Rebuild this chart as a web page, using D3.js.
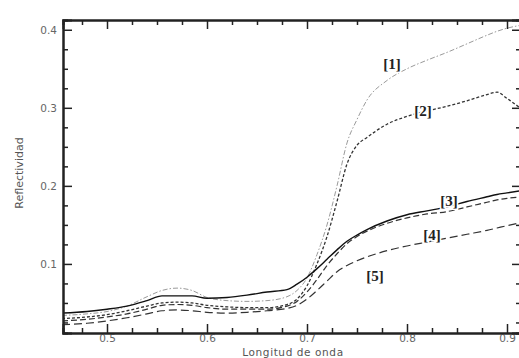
<!DOCTYPE html>
<html>
<head>
<meta charset="utf-8">
<script src="https://cdn.jsdelivr.net/npm/d3@7"></script>
<style>
  body { margin: 0; background: #fff; }
  svg { display: block; }
  .tick text { font-family: "DejaVu Sans", sans-serif; font-size: 10.5px; fill: #666; }
</style>
</head>
<body>
<svg id="chart" width="519" height="358"></svg>
<script>
// wavelength (µm) shared by every curve
const wavelength = [0.455, 0.48, 0.50, 0.52, 0.54, 0.555, 0.57, 0.585, 0.60, 0.62, 0.64, 0.66, 0.68, 0.69, 0.70,
                    0.71, 0.72, 0.73, 0.74, 0.75, 0.76, 0.78, 0.80, 0.82, 0.84, 0.86, 0.88, 0.89, 0.90, 0.915]

const curve1 = [0.034, 0.036, 0.039, 0.046, 0.058, 0.066, 0.069, 0.066, 0.057, 0.053, 0.052, 0.053, 0.058, 0.066, 0.082,
                0.112, 0.150, 0.200, 0.255, 0.285, 0.310, 0.335, 0.350, 0.361, 0.371, 0.382, 0.393, 0.398, 0.402, 0.406]
const curve2 = [0.030, 0.032, 0.035, 0.040, 0.046, 0.050, 0.051, 0.050, 0.047, 0.045, 0.044, 0.044, 0.048, 0.055, 0.072,
                0.100, 0.135, 0.180, 0.228, 0.252, 0.262, 0.279, 0.289, 0.296, 0.302, 0.309, 0.317, 0.320, 0.312, 0.298]
const curve3 = [0.037, 0.039, 0.042, 0.046, 0.053, 0.059, 0.059, 0.059, 0.056, 0.057, 0.060, 0.064, 0.067, 0.074, 0.083,
                0.094, 0.106, 0.118, 0.129, 0.137, 0.144, 0.155, 0.163, 0.168, 0.173, 0.180, 0.186, 0.189, 0.191, 0.194]
const curve3b = [0.027, 0.029, 0.032, 0.036, 0.042, 0.047, 0.048, 0.047, 0.044, 0.042, 0.042, 0.042, 0.046, 0.052, 0.064,
                 0.080, 0.098, 0.113, 0.126, 0.135, 0.142, 0.152, 0.159, 0.164, 0.167, 0.173, 0.179, 0.182, 0.184, 0.186]
const curve4 = [0.022, 0.024, 0.027, 0.031, 0.036, 0.040, 0.041, 0.040, 0.038, 0.037, 0.038, 0.040, 0.043, 0.047, 0.055,
                0.066, 0.078, 0.090, 0.098, 0.104, 0.109, 0.117, 0.123, 0.128, 0.133, 0.138, 0.143, 0.146, 0.149, 0.153]

const xTicks = [0.5, 0.6, 0.7, 0.8, 0.9]
const yTicks = [0.1, 0.2, 0.3, 0.4]

const labelNames = ["[1]", "[2]", "[3]", "[4]", "[5]"]
const labelWl = [0.785, 0.816, 0.842, 0.825, 0.768]
const labelRef = [0.356, 0.296, 0.181, 0.137, 0.085]

const series = [
    {values: curve1, color: "#9a9a9a", width: 1, dash: "5,2,1.5,2"},
    {values: curve2, color: "#333", width: 1.3, dash: "3,2"},
    {values: curve3, color: "#111", width: 1.4, dash: null},
    {values: curve3b, color: "#333", width: 1.2, dash: "6,3"},
    {values: curve4, color: "#333", width: 1.2, dash: "8,4"},
]

const plotLeft = 63, plotRight = 521, plotTop = 20, plotBottom = 333

const svg = d3.select("#chart")
const x = d3.scaleLinear().domain([0.456, 0.914]).range([plotLeft, plotRight])
const y = d3.scaleLinear().domain([0.0115, 0.4125]).range([plotBottom, plotTop])

svg.append("defs").append("clipPath").attr("id", "plot")
    .append("rect").attr("x", plotLeft).attr("y", plotTop)
    .attr("width", plotRight - plotLeft).attr("height", plotBottom - plotTop)

const line = d3.line()
    .x((d, i) => x(wavelength[i]))
    .y(d => y(d))
    .curve(d3.curveMonotoneX)

svg.append("g").attr("clip-path", "url(#plot)")
    .selectAll("path")
    .data(series)
    .join("path")
    .attr("d", d => line(d.values))
    .attr("fill", "none")
    .attr("stroke", d => d.color)
    .attr("stroke-width", d => d.width)
    .attr("stroke-dasharray", d => d.dash)

// axes, ticks point inward
const minorX = d3.range(0.475, 0.914, 0.025).filter(v => Math.abs(v * 10 - Math.round(v * 10)) > 0.01)
const minorY = d3.range(0.025, 0.41, 0.025).filter(v => Math.abs(v * 10 - Math.round(v * 10)) > 0.01)

const styleAxis = g => {
    g.select(".domain").attr("stroke", "#222").attr("stroke-width", 2)
    g.selectAll(".tick line").attr("stroke", "#222").attr("stroke-width", 1.5)
}

svg.append("g").attr("transform", `translate(0,${plotBottom})`)
    .call(d3.axisBottom(x).tickValues(xTicks).tickSize(-9).tickPadding(2).tickFormat(d3.format(".1f")))
    .call(styleAxis)
svg.append("g").attr("transform", `translate(0,${plotBottom})`)
    .call(d3.axisBottom(x).tickValues(minorX).tickSize(-5).tickFormat(""))
    .call(styleAxis)
svg.append("g").attr("transform", `translate(0,${plotTop})`)
    .call(d3.axisTop(x).tickValues(xTicks).tickSize(-9).tickFormat(""))
    .call(styleAxis)
svg.append("g").attr("transform", `translate(0,${plotTop})`)
    .call(d3.axisTop(x).tickValues(minorX).tickSize(-5).tickFormat(""))
    .call(styleAxis)

svg.append("g").attr("transform", `translate(${plotLeft},0)`)
    .call(d3.axisLeft(y).tickValues(yTicks).tickSize(-9).tickPadding(6).tickFormat(d3.format(".1f")))
    .call(styleAxis)
svg.append("g").attr("transform", `translate(${plotLeft},0)`)
    .call(d3.axisLeft(y).tickValues(minorY).tickSize(-5).tickFormat(""))
    .call(styleAxis)
svg.append("g").attr("transform", `translate(${plotRight},0)`)
    .call(d3.axisRight(y).tickValues(yTicks).tickSize(-9).tickFormat(""))
    .call(styleAxis)
svg.append("g").attr("transform", `translate(${plotRight},0)`)
    .call(d3.axisRight(y).tickValues(minorY).tickSize(-5).tickFormat(""))
    .call(styleAxis)

// axis titles
svg.append("text")
    .attr("x", 293).attr("y", 356)
    .attr("text-anchor", "middle")
    .attr("font-family", "DejaVu Sans, sans-serif").attr("font-size", 10.5)
    .attr("letter-spacing", 0.6)
    .attr("fill", "#555")
    .text("Longitud de onda")

svg.append("text")
    .attr("transform", "translate(23,173) rotate(-90)")
    .attr("text-anchor", "middle")
    .attr("font-family", "DejaVu Sans, sans-serif").attr("font-size", 11)
    .attr("fill", "#555")
    .text("Reflectividad")

// curve labels
svg.append("g")
    .selectAll("text")
    .data(labelNames)
    .join("text")
    .attr("x", (d, i) => x(labelWl[i]))
    .attr("y", (d, i) => y(labelRef[i]))
    .attr("dy", "0.35em")
    .attr("text-anchor", "middle")
    .attr("font-family", "Liberation Serif, serif")
    .attr("font-weight", "bold")
    .attr("font-size", 15)
    .attr("fill", "#222")
    .attr("stroke", "#fff").attr("stroke-width", 3).attr("paint-order", "stroke")
    .text(d => d)
</script>
</body>
</html>
